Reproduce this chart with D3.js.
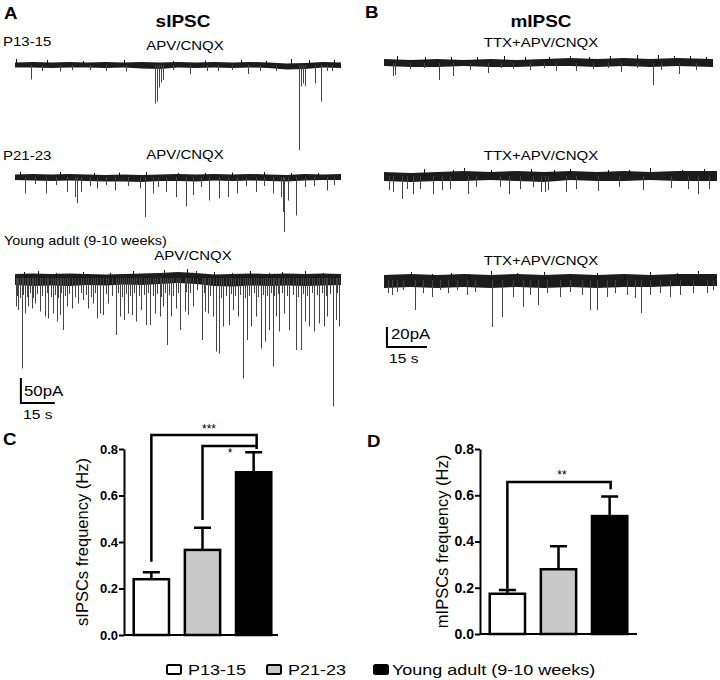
<!DOCTYPE html>
<html>
<head>
<meta charset="utf-8">
<script src="https://cdn.jsdelivr.net/npm/d3@7/dist/d3.min.js"></script>
<style>
  body { margin: 0; background: #fff; }
  svg { font-family: "Liberation Sans", Arial, sans-serif; }
</style>
</head>
<body>
<script>
// SVG size
const w = 720;
const h = 680;

// Bar chart data
const groups = ["P13-15", "P21-23", "Young adult (9-10 weeks)"];
const sMean = [0.24, 0.366, 0.70];
const sSem = [0.03, 0.095, 0.086];
const mMean = [0.174, 0.28, 0.51];
const mSem = [0.016, 0.10, 0.085];
const yTicks = [0, 0.2, 0.4, 0.6, 0.8];

// Trace events: [time (s), amplitude (pA, downward; negative = upward noise)]
const evA1 = [[6.9,29],[12,12],[19.8,13],[25,10],[33,10],[40,12],[49.2,13],[62,77],[62.7,73],[63.6,45],
  [64.6,35],[65.5,30],[70,10],[77.1,18],[85,12],[89.6,12],[96,10],[102.8,18],[108,12],[115.3,12],
  [125.6,170],[126.3,43],[127.2,37],[128.1,42],[132.6,37],[135.1,73],[138,12],[140,12],
  [0.5,-12],[14,-10],[30,-8],[48,-10],[70,-8],[84,-9],[100,-10],[111,-8],[122,-12],[130,-10],[141,-10]];
const evA2 = [[4.4,33],[9,14],[13.7,33],[18,16],[22.8,30],[26.4,40],[27.4,52],[29.1,30],[33,18],[36,23],
  [40,16],[44,27],[50,18],[55.1,23],[57.6,80],[60.9,33],[63,20],[66.8,30],[71.2,40],[75.6,59],
  [78.5,36],[82,20],[85.9,47],[90.3,43],[94,40],[97.9,33],[102,18],[106.5,30],[110,18],[113.8,33],
  [117.5,40],[118.5,70],[119,110],[120.8,47],[124.1,77],[128,20],[132,18],[138,27],[141,16],
  [2,-10],[20,-10],[35,-8],[46,-9],[58,-10],[72,-8],[84,-8],[96,-9],[110,-10],[122,-8],[134,-8]];
const evA3 = [[0.5,57],[1.5,64],[2.9,181],[4.4,71],[5.9,57],[7.3,61],[8.8,51],[11,67],[13.2,77],[14.7,81],
  [16.9,71],[18.4,87],[19.8,74],[21.3,104],[22.8,57],[25,61],[27.9,51],[30.1,44],[32.3,61],[34.5,51],
  [36.3,81],[37.4,71],[38.9,74],[41.1,51],[44.5,114],[46.3,77],[48,84],[49.9,71],[51.8,74],[53.6,87],
  [55.8,64],[58,94],[59.8,94],[61.7,71],[63.9,77],[65.3,57],[67.1,134],[69,77],[70.9,61],[73.1,104],
  [74.9,67],[76.3,74],[78.5,57],[82.4,124],[84.1,67],[85.2,71],[87.4,77],[88.8,147],[89.9,151],[91.8,97],
  [94.7,94],[96.2,64],[98.4,77],[100.6,201],[102.3,124],[104.3,97],[106.5,77],[108.5,141],[110.6,127],[112,104],
  [113.8,177],[115.3,77],[116.7,107],[118.9,71],[121.1,104],[124.1,144],[126.3,144],[128.2,87],[130,97],[132.2,107],
  [134.4,91],[136.6,97],[138,77],[140.5,257],[141.7,84],[143.2,97],
  [1,36],[2.2,40],[3.6,34],[5.1,38],[6.6,30],[8,40],[9.9,32],[12.1,36],[14,30],[15.8,38],
  [17.6,34],[19.1,40],[20.5,30],[22,36],[23.9,32],[26.4,38],[29,30],[31.2,34],[33.4,38],[35.4,30],
  [40,32],[42.8,36],[45.4,30],[47.2,38],[49,32],[50.8,36],[52.7,30],[54.7,36],[56.9,34],[58.9,30],
  [60.8,36],[62.8,32],[64.6,38],[66.2,30],[68,34],[70,36],[72,30],[75.6,28],[77.4,30],[80.4,24],
  [83.3,30],[86.3,36],[90.8,40],[93.2,36],[95.4,32],[97.3,36],[99.5,34],[101.4,40],[103.3,36],[105.4,30],
  [107.5,38],[109.5,34],[111.3,36],[112.9,30],[114.6,36],[116,32],[117.8,30],[120,36],[122.6,34],[125.2,38],
  [127.3,32],[129.1,36],[131.1,30],[133.3,34],[135.5,30],[137.3,36],[139.2,32],[142.4,30],
  [4,-12],[10,-14],[18,-10],[30,-12],[42,-10],[52,-14],[66,-16],[76,-18],[80,-14],[88,-12],[96,-10],
  [104,-14],[112,-10],[118,-12],[128,-14],[136,-10]];
const evB1 = [[3.5,13],[4.2,12],[9.7,6],[15,5],[20.6,17],[26,13],[32.2,7],[39.1,10],[44,5],[48.4,6],
  [54.7,7],[60,5],[64.7,8],[72.2,8],[78.4,6],[84,5],[89,9],[95,5],[100.9,22],[104,7],[110.9,11],[117.1,7],
  [5,-7],[15.5,-6],[25,-6],[35,-6],[45,-7],[53,-6],[62,-6],[70,-7],[77,-6],[85,-7],[95,-8],[103,-8],[109,-7],[115,-7],[121,-6]];
const evB2 = [[2,14],[3.5,16],[6.6,23],[8.5,13],[11,18],[13.5,13],[18.5,18],[21.6,14],[24.7,13],[31.6,18],
  [34.7,11],[43.4,11],[46.9,18],[50.9,13],[55.9,11],[59.1,16],[60.3,16],[61.5,14],[68.4,16],[72.2,13],
  [80.3,15],[88.4,11],[97.1,14],[107.7,12],[114,13],[117.7,18],[122.1,13],
  [15,-7],[26,-6],[30,-8],[40,-6],[55,-7],[64,-6],[70,-7],[84,-6],[92,-6],[100,-8],[112,-6],[120,-7]];
const evB3 = [[1.6,13],[2.9,15],[4.8,12],[7.3,10],[11.6,30],[14.8,13],[17.9,17],[21,10],[24.2,13],[27.3,10],
  [31,15],[34.2,12],[40.7,47],[44.4,37],[48.6,17],[52.3,27],[54.8,15],[57.9,25],[61.1,13],[66.1,17],
  [69.8,12],[74.2,15],[77.3,30],[79.8,30],[83.6,17],[86.7,13],[91.1,15],[94.2,18],[96.5,33],[99.8,15],
  [103.6,13],[107.4,17],[111.1,15],[116.1,13],[121.1,13],[123.6,10],
  [10,-8],[18,-6],[25,-7],[32,-6],[40,-9],[50,-7],[60,-8],[70,-6],[80,-7],[90,-6],[100,-8],[110,-7],[118,-9]];

// Noise band of each trace: [time (s), top offset, bottom offset] in pA
const bandA1 = [[0,-5,5],[8,-6,5],[16,-5,6],[24,-6,5],[32,-5,5],[40,-6,6],[48,-5,5],[56,-6,7],[64,-5,8],[72,-6,5],
  [80,-5,6],[88,-6,5],[96,-5,6],[104,-6,5],[112,-5,6],[120,-3,9],[128,-4,8],[136,-6,5],[144,-5,6]];
const bandA2 = [[0,-5,6],[8,-6,7],[16,-5,8],[24,-6,7],[32,-5,8],[40,-4,9],[48,-5,9],[56,-4,10],[64,-5,8],[72,-6,8],
  [80,-5,9],[88,-6,7],[96,-5,8],[104,-6,7],[112,-5,8],[120,-4,9],[128,-6,7],[136,-5,6],[144,-6,6]];
const bandA3 = [[0,-8,14],[8,-9,16],[16,-8,15],[24,-9,16],[32,-8,14],[40,-7,15],[48,-8,13],[56,-9,14],[64,-10,12],
  [72,-12,10],[80,-10,12],[88,-7,16],[96,-8,17],[104,-9,15],[112,-8,16],[120,-9,15],[128,-8,16],[136,-9,15],[144,-8,14]];
const bandB1 = [[0,-4,3],[10,-3,4],[20,-4,4],[30,-3,3],[40,-4,4],[50,-3,4],[60,-4,3],[70,-5,3],[80,-4,4],
  [90,-5,3],[100,-4,4],[110,-5,3],[123.5,-4,4]];
const bandB2 = [[0,-4,5],[10,-3,6],[20,-4,5],[30,-5,5],[40,-4,4],[50,-5,5],[60,-4,6],[70,-5,4],[80,-4,5],
  [90,-5,5],[100,-4,4],[110,-5,5],[125,-5,5]];
const bandB3 = [[0,-5,8],[10,-6,7],[20,-5,8],[30,-6,7],[40,-5,8],[50,-6,7],[60,-5,8],[70,-6,7],[80,-5,8],
  [90,-6,7],[100,-5,7],[110,-6,6],[125,-6,6]];

const svg = d3.select("body").append("svg")
    .attr("width", w)
    .attr("height", h);

// text helper (the figure's lettering is a bit wide)
function label(x, y, s, size, opts = {}) {
    return svg.append("text")
        .attr("transform", `translate(${x},${y}) scale(${opts.sx || 1.2},1)`)
        .attr("font-size", size)
        .attr("font-weight", opts.bold ? "bold" : "normal")
        .attr("text-anchor", opts.anchor || "start")
        .attr("fill", "#000")
        .text(s);
}

// Trace scales
const xA = d3.scaleLinear().domain([0, 144]).range([15, 341]);
const ampA = d3.scaleLinear().domain([0, 50]).range([0, 25]);
const xB = d3.scaleLinear().domain([0, 125]).range([384, 717]);
const ampB = d3.scaleLinear().domain([0, 20]).range([0, 20]);

const traces = [
    { ev: evA1, band: bandA1, y0: 65, x: xA, amp: ampA },
    { ev: evA2, band: bandA2, y0: 177, x: xA, amp: ampA },
    { ev: evA3, band: bandA3, y0: 278, x: xA, amp: ampA },
    { ev: evB1, band: bandB1, y0: 63, x: xB, amp: ampB },
    { ev: evB2, band: bandB2, y0: 176, x: xB, amp: ampB },
    { ev: evB3, band: bandB3, y0: 280, x: xB, amp: ampB }
];

traces.forEach(tr => {
    const g = svg.append("g");
    const area = d3.area()
        .x(d => tr.x(d[0]))
        .y0(d => tr.y0 + tr.amp(d[1]))
        .y1(d => tr.y0 + tr.amp(d[2]));
    g.append("path")
        .datum(tr.band)
        .attr("d", area)
        .attr("fill", "#1c1c1c");

    g.selectAll("line")
        .data(tr.ev)
        .join("line")
        .attr("x1", d => Math.round(tr.x(d[0])) + 0.5)
        .attr("x2", d => Math.round(tr.x(d[0])) + 0.5)
        .attr("y1", tr.y0)
        .attr("y2", d => tr.y0 + tr.amp(d[1]))
        .attr("stroke", d => d[1] > 0 ? "#444" : "#111")
        .attr("stroke-width", 1);
});

// Scale bars
function scaleBar(x, amp, t0, yBottom, sec, pA) {
    const x0 = x(t0);
    svg.append("path")
        .attr("d", `M${x0},${yBottom - amp(pA)}V${yBottom}H${x(t0 + sec)}`)
        .attr("fill", "none")
        .attr("stroke", "#000")
        .attr("stroke-width", 2);
}
scaleBar(xA, ampA, 2.6, 403, 15, 50);
scaleBar(xB, ampB, 1.1, 347, 15, 20);

// Panel titles and labels
label(4, 19, "A", 17, { bold: true, sx: 1.1 });
label(183, 27, "sIPSC", 16.5, { bold: true, anchor: "middle", sx: 1.15 });
label(3, 46, "P13-15", 12.5);
label(185, 50, "APV/CNQX", 12.5, { anchor: "middle" });
label(3, 160, "P21-23", 12.5);
label(185, 159, "APV/CNQX", 12.5, { anchor: "middle" });
label(4, 245, "Young adult (9-10 weeks)", 12);
label(193, 260, "APV/CNQX", 12.5, { anchor: "middle" });
label(24, 396, "50pA", 14);
label(23, 419, "15 s", 13);

label(365, 18, "B", 17, { bold: true, sx: 1.1 });
label(541, 27, "mIPSC", 16.5, { bold: true, anchor: "middle", sx: 1.15 });
label(541, 47, "TTX+APV/CNQX", 12.5, { anchor: "middle" });
label(541, 160, "TTX+APV/CNQX", 12.5, { anchor: "middle" });
label(541, 265, "TTX+APV/CNQX", 12.5, { anchor: "middle" });
label(391, 339, "20pA", 14);
label(389, 363, "15 s", 13);

label(3, 445, "C", 17, { bold: true, sx: 1.1 });
label(367, 447, "D", 17, { bold: true, sx: 1.1 });

// Bar charts
const fills = ["#ffffff", "#c8c8c8", "#000000"];

function barChart(opts) {
    const x = d3.scaleBand()
        .domain(groups)
        .range(opts.xRange)
        .paddingInner(0.31)
        .paddingOuter(0.19);
    const y = d3.scaleLinear()
        .domain([0, 0.8])
        .range(opts.yRange);

    const g = svg.append("g");

    // bars
    g.selectAll("rect")
        .data(groups)
        .join("rect")
        .attr("x", d => x(d))
        .attr("y", (d, i) => y(opts.mean[i]))
        .attr("width", x.bandwidth())
        .attr("height", (d, i) => y(0) - y(opts.mean[i]))
        .attr("fill", (d, i) => fills[i])
        .attr("stroke", "#000")
        .attr("stroke-width", 2.5);

    // error bars (upper only)
    const cx = d => x(d) + x.bandwidth() / 2;
    g.selectAll(".err")
        .data(groups)
        .join("path")
        .attr("class", "err")
        .attr("d", (d, i) => {
            const top = y(opts.mean[i] + opts.sem[i]);
            return `M${cx(d)},${y(opts.mean[i])}V${top}M${cx(d) - 8.5},${top}H${cx(d) + 8.5}`;
        })
        .attr("fill", "none")
        .attr("stroke", "#000")
        .attr("stroke-width", 2.5);

    // y axis
    const axis = g.append("g")
        .attr("transform", `translate(${opts.xRange[0]},0)`)
        .call(d3.axisLeft(y)
            .tickValues(yTicks)
            .tickFormat(d3.format(".1f"))
            .tickSize(5)
            .tickSizeOuter(0));
    axis.select(".domain").attr("stroke-width", 2);
    axis.selectAll(".tick line").attr("stroke-width", 2);
    axis.selectAll(".tick text")
        .attr("font-size", opts.tickSize)
        .attr("font-weight", "bold")
        .attr("font-family", "Liberation Sans, Arial, sans-serif")
        .attr("x", -6)
        .attr("fill", "#000");

    // x axis line
    g.append("line")
        .attr("x1", opts.xRange[0])
        .attr("x2", opts.xEnd)
        .attr("y1", y(0))
        .attr("y2", y(0))
        .attr("stroke", "#000")
        .attr("stroke-width", 2);

    // y label
    g.append("text")
        .attr("transform", `translate(${opts.labelX},${(y(0) + y(0.8)) / 2}) rotate(-90)`)
        .attr("text-anchor", "middle")
        .attr("font-size", 16.5)
        .text(opts.yLabel);

    // significance brackets
    opts.sig.forEach(s => {
        const xa = cx(groups[s.from]);
        const xb = cx(groups[s.to]) + s.shift;
        g.append("path")
            .attr("d", `M${xa},${y(s.left)}V${y(s.top)}H${xb}V${y(s.right)}`)
            .attr("fill", "none")
            .attr("stroke", "#000")
            .attr("stroke-width", 2.5);
        g.append("text")
            .attr("x", s.tx)
            .attr("y", y(s.ty))
            .attr("text-anchor", "middle")
            .attr("font-size", 12)
            .text(s.label);
    });
}

barChart({
    xRange: [124, 281],
    xEnd: 278,
    yRange: [635, 449],
    mean: sMean,
    sem: sSem,
    tickSize: 13,
    labelX: 88,
    yLabel: "sIPSCs frequency (Hz)",
    sig: [
        { from: 0, to: 2, top: 0.86, left: 0.315, right: 0.817, shift: 3, label: "***", tx: 209, ty: 0.87 },
        { from: 1, to: 2, top: 0.813, left: 0.495, right: 0.80, shift: 3, label: "*", tx: 230, ty: 0.765 }
    ]
});

barChart({
    xRange: [480, 637],
    xEnd: 637,
    yRange: [634, 449],
    mean: mMean,
    sem: mSem,
    tickSize: 14,
    labelX: 448,
    yLabel: "mIPSCs frequency (Hz)",
    sig: [
        { from: 0, to: 2, top: 0.657, left: 0.196, right: 0.626, shift: 1, label: "**", tx: 562, ty: 0.67 }
    ]
});

// Legend
const legendX = [166, 266, 373];
groups.forEach((gname, i) => {
    svg.append("rect")
        .attr("x", legendX[i] + 1)
        .attr("y", 665)
        .attr("width", 14)
        .attr("height", 9)
        .attr("rx", 1.5)
        .attr("fill", fills[i])
        .attr("stroke", "#000")
        .attr("stroke-width", 2);
    label(legendX[i] + (i === 2 ? 19 : 22), 675, gname, 15);
});
</script>
</body>
</html>
